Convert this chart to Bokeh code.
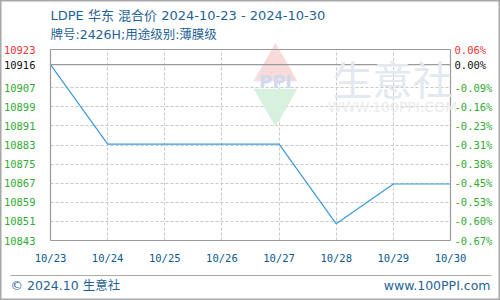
from bokeh.plotting import figure
from bokeh.models import LinearAxis, FixedTicker, Label, Range1d, Grid
from bokeh.embed import file_html
from bokeh.resources import INLINE

# ---- data ----
dates = ["10/23", "10/24", "10/25", "10/26", "10/27", "10/28", "10/29", "10/30"]
prices = [10916.67, 10883.33, 10883.33, 10883.33, 10883.33, 10850.00, 10866.67, 10866.67]
y_min, y_max = 10843, 10923
left_ticks = [10843, 10851, 10859, 10867, 10875, 10883, 10891, 10899, 10907]
left_labels = ["10843", "10851", "10859", "10867", "10875", "10883", "10891", "10899", "10907"]
right_labels = ["-0.67%", "-0.60%", "-0.53%", "-0.45%", "-0.38%", "-0.31%", "-0.23%", "-0.16%", "-0.09%"]
top_label, top_pct = "10923", "0.06%"
base_label, base_pct = "10916", "0.00%"
title_text = "LDPE 华东 混合价  2024-10-23 - 2024-10-30"
subtitle_text = "牌号:2426H;用途级别:薄膜级"
footer_left = "© 2024.10 生意社"
footer_right = "www.100PPI.com"
wm_cn = "生意社"
wm_url = "WWW.100PPI.COM"
wm_logo = "PPI"

# ---- layout / style constants (pixels) ----
W, H = 500, 300
PL, PR, PT, PB = 50, 450, 49, 240
GREEN = "#33aa33"
RED = "#f03535"
BLACK = "#111111"
TITLE_C = "#1f6395"
XLAB_C = "#0b5a8e"
FRAME_C = "#9a9a9a"
GRID_C = "#c8c8c8"
MONO = "DejaVu Sans Mono"
SANS = "DejaVu Sans, Noto Sans CJK SC"
CJK = "Noto Sans CJK SC"

n = len(dates)
xs = list(range(n))
dpp = (n - 1) / (PR - PL)
vpp = (y_max - y_min) / (PB - PT)
x_range = Range1d(0 - PL * dpp, (n - 1) + (W - PR) * dpp)
y_range = Range1d(y_min - (H - PB) * vpp, y_max + PT * vpp)

p = figure(width=W, height=H, output_backend="svg", toolbar_location=None,
           x_range=x_range, y_range=y_range, x_axis_location=None, y_axis_location=None,
           min_border=0, min_border_left=0, min_border_right=0, min_border_top=0, min_border_bottom=0,
           background_fill_color="white", border_fill_color="white")
p.extra_x_ranges = {"px": Range1d(0, W)}
p.extra_y_ranges = {"py": Range1d(H, 0)}
p.outline_line_color = "#a8a8a8"
p.outline_line_width = 2
p.center = []

# ---- grids ----
has_cb = "cross_bounds" in Grid.properties()
gx = Grid(dimension=0, ticker=FixedTicker(ticks=xs), grid_line_color=GRID_C, grid_line_dash="3 2")
gy = Grid(dimension=1, ticker=FixedTicker(ticks=left_ticks + [y_max]), grid_line_color=GRID_C,
          grid_line_dash="3 2")
if has_cb:
    gx.cross_bounds = (y_min, y_max)
    gy.cross_bounds = (0, n - 1)
    p.add_layout(gx)
    p.add_layout(gy)
else:
    p.segment(x0=xs, x1=xs, y0=[y_min] * n, y1=[y_max] * n, line_color=GRID_C, line_dash="3 2")
    gt = left_ticks + [y_max]
    p.segment(x0=[0] * len(gt), x1=[n - 1] * len(gt), y0=gt, y1=gt, line_color=GRID_C, line_dash="3 2")

# ---- watermark ----
p.scatter(x=[275], y=[68], x_range_name="px", y_range_name="py", marker="triangle", size=44,
          fill_color="#f8dada", line_color=None)
p.scatter(x=[275], y=[101], x_range_name="px", y_range_name="py", marker="inverted_triangle", size=44,
          fill_color="#d8f1df", line_color=None)
p.add_layout(Label(x=275, y=81, x_range_name="px", y_range_name="py", text=wm_logo, text_align="center",
                   text_baseline="middle", text_font_size="18px", text_font_style="bold",
                   text_color="#d0daee", text_font="DejaVu Sans"))
p.add_layout(Label(x=392, y=77, x_range_name="px", y_range_name="py", text=wm_cn, text_align="center",
                   text_baseline="middle", text_font_size="40px", text_color="#e4e8ef", text_font=CJK))
p.add_layout(Label(x=392, y=106, x_range_name="px", y_range_name="py", text=wm_url, text_align="center",
                   text_baseline="middle", text_font_size="14px", text_color="#ececec",
                   text_font="DejaVu Sans"))

# ---- base line and data ----
p.segment(x0=[0], x1=[n - 1], y0=[prices[0]], y1=[prices[0]], line_color=FRAME_C, line_width=1.2)
p.line(x=xs, y=prices, line_color="#3a9ad9", line_width=1.2)


# ---- axes (fixed to the plot box) ----
def mk_axis(place, loc, ticks, labels, color, standoff, line=None, bounds=None, font=MONO,
            size="10.5px", **kw):
    ax = LinearAxis(fixed_location=loc, ticker=FixedTicker(ticks=ticks),
                    major_label_overrides={t: l for t, l in zip(ticks, labels)}, **kw)
    ax.axis_line_color = line
    ax.axis_line_width = 1.2
    if bounds is not None:
        ax.bounds = bounds
    ax.major_tick_line_color = None
    ax.minor_tick_line_color = None
    ax.major_tick_out = 0
    ax.major_tick_in = 0
    ax.minor_tick_out = 0
    ax.minor_tick_in = 0
    ax.major_label_text_color = color
    ax.major_label_text_font = font
    ax.major_label_text_font_size = size
    ax.major_label_standoff = standoff
    p.add_layout(ax, place)
    return ax


yb = (y_min, y_max)
xb = (0, n - 1)
mk_axis("left", 0, left_ticks, left_labels, GREEN, 15, line=FRAME_C, bounds=yb)
mk_axis("left", 0, [y_max], [top_label], RED, 15)
mk_axis("left", 0, [prices[0]], [base_label], BLACK, 15)
mk_axis("right", n - 1, left_ticks, right_labels, GREEN, 4, line=FRAME_C, bounds=yb)
mk_axis("right", n - 1, [y_max], [top_pct], RED, 4)
mk_axis("right", n - 1, [prices[0]], [base_pct], BLACK, 4)
mk_axis("below", y_min, xs, dates, XLAB_C, 11, line=FRAME_C, bounds=xb)
mk_axis("above", y_max, [], [], XLAB_C, 0, line=FRAME_C, bounds=xb)
# footer separator
mk_axis("below", 275, [], [], XLAB_C, 0, line="#aaaaaa", bounds=(10, 491),
        x_range_name="px", y_range_name="py")

# ---- titles and footer ----
for txt, y, fs in [(title_text, 15, "13px"), (subtitle_text, 34, "12.5px")]:
    p.add_layout(Label(x=PL, y=y, x_range_name="px", y_range_name="py", text=txt,
                       text_baseline="middle", text_color=TITLE_C, text_font=SANS, text_font_size=fs))
p.add_layout(Label(x=10, y=285, x_range_name="px", y_range_name="py", text=footer_left,
                   text_baseline="middle", text_color=TITLE_C, text_font=SANS, text_font_size="12.5px"))
p.add_layout(Label(x=490, y=285, x_range_name="px", y_range_name="py", text=footer_right,
                   text_align="right", text_baseline="middle", text_color=TITLE_C, text_font=SANS,
                   text_font_size="12.5px"))

open("out.html", "w").write(file_html(p, INLINE))
